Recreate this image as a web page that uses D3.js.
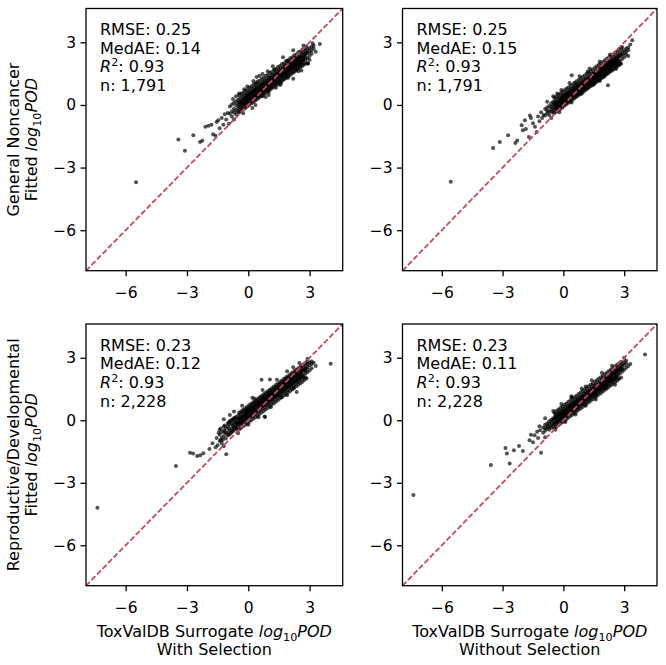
<!DOCTYPE html>
<html><head><meta charset="utf-8">
<script src="https://cdn.jsdelivr.net/npm/d3@7/dist/d3.min.js"></script>
<style>
body{margin:0;background:#fff}
svg{display:block}
text{font-family:"DejaVu Sans",sans-serif;fill:#000}
</style>
</head><body>
<svg id="chart" width="666" height="665"></svg>
<script>
// ---------- data ----------
const rowLabels = ["General Noncancer", "Reproductive/Developmental"];
const colLabels = ["With Selection", "Without Selection"];
const rmse  = ["0.25", "0.25", "0.23", "0.23"];
const medae = ["0.14", "0.15", "0.12", "0.11"];
const r2    = ["0.93", "0.93", "0.93", "0.93"];
const nObs  = ["1,791", "1,791", "2,228", "2,228"];
const tickValues = [-6, -3, 0, 3];
const axisDomain = [-7.94, 4.62];

// dense band, read column by column: [x, y1, y2, ...]
const gncWithCols = [
[-0.9,-0.08,-0.42],[-0.8,-0.30,0.02,-0.55],[-0.7,-0.18,0.10,-0.36],[-0.6,-0.02,-0.25,0.18,-0.45],
[-0.5,0.06,-0.16,0.25,-0.32],[-0.4,0.12,-0.10,0.32,-0.24,0.02],[-0.3,0.20,-0.02,0.40,-0.18,0.10],
[-0.2,0.28,0.04,0.47,-0.10,0.18],[-0.1,0.34,0.12,0.55,-0.02,0.24,0.45],[0.0,0.40,0.18,0.62,0.05,0.30,0.50],
[0.1,0.48,0.26,0.70,0.12,0.36,0.58],[0.2,0.55,0.30,0.76,0.20,0.44,0.64],[0.3,0.62,0.40,0.85,0.26,0.50,0.72],
[0.4,0.70,0.46,0.90,0.34,0.58,0.80,1.05],[0.5,0.76,0.52,0.98,0.40,0.65,0.86],[0.6,0.84,0.60,1.04,0.48,0.72,0.94],
[0.7,0.90,0.66,1.12,0.55,0.78,1.00,0.42],[0.8,0.98,0.74,1.18,0.62,0.86,1.08],[0.9,1.05,0.80,1.26,0.70,0.92,1.15],
[1.0,1.12,0.88,1.32,0.76,1.00,1.22,0.62],[1.1,1.18,0.95,1.40,0.84,1.06,1.30],[1.2,1.26,1.02,1.46,0.90,1.14,1.36],
[1.3,1.34,1.10,1.54,0.98,1.22,1.44,1.68],[1.4,1.40,1.16,1.62,1.04,1.28,1.50],[1.5,1.48,1.24,1.68,1.12,1.36,1.58],
[1.6,1.55,1.30,1.76,1.18,1.42,1.66,1.02],[1.7,1.62,1.38,1.82,1.26,1.50,1.72],[1.8,1.70,1.45,1.90,1.34,1.58,1.80],
[1.9,1.76,1.52,1.96,1.40,1.64,1.86,2.10],[2.0,1.84,1.60,2.04,1.48,1.72,1.94],[2.1,1.90,1.66,2.12,1.55,1.78,2.00],
[2.2,1.98,1.74,2.18,1.62,1.86,2.08,1.26],[2.3,2.05,1.80,2.26,1.70,1.92,2.16],[2.4,2.12,1.88,2.32,1.76,2.00,2.22],
[2.5,2.18,1.95,2.40,1.84,2.06,2.30],[2.6,2.26,2.02,2.46,1.92,2.14],[2.7,2.32,2.10,2.52,2.00,2.22],
[2.8,2.40,2.18,2.60,2.28],[2.9,2.48,2.24,2.66,1.98],[3.0,2.55,2.35,2.72],[3.1,2.62,2.45,2.80],
[3.2,2.70,2.85],[3.5,2.92],
[-0.45,0.46,-0.36,0.14,-0.09],[-0.35,0.55,-0.30,0.20,-0.02],[-0.25,0.58,-0.22,0.28,0.05],[-0.15,0.68,-0.16,0.35,0.12],
[-0.05,0.72,-0.08,0.42,0.19],[0.05,0.84,0.00,0.50,0.27],[0.15,0.88,0.07,0.57,0.34],[0.25,0.98,0.14,0.64,0.41],
[0.35,1.02,0.21,0.71,0.48],[0.45,1.12,0.28,0.78,0.55],[0.55,1.16,0.36,0.86,0.63],[0.65,1.26,0.43,0.93,0.70],
[0.75,1.30,0.50,1.00,0.77],[0.85,1.40,0.57,1.07,0.84],[0.95,1.44,0.64,1.14,0.91],[1.05,1.54,0.72,1.22,0.99],
[1.15,1.58,0.79,1.29,1.06],[1.25,1.68,0.86,1.36,1.13],[1.35,1.72,0.93,1.43,1.20],[1.45,1.82,1.00,1.50,1.27],
[1.55,1.86,1.08,1.58,1.35],[1.65,1.96,1.15,1.65,1.42],[1.75,2.00,1.22,1.72,1.49],[1.85,2.10,1.29,1.79,1.56],
[1.95,2.14,1.36,1.86,1.63],[2.05,2.24,1.44,1.94,1.71],[2.15,2.28,1.51,2.01,1.78],[2.25,2.38,1.58,2.08,1.85],
[2.35,2.42,1.65,2.15,1.92],[2.45,2.52,1.72,2.22,1.99],[2.55,2.56,1.80,2.30,2.07],[2.65,2.66,1.87,2.37,2.14],
[2.75,2.70,1.94,2.44],[2.85,2.80,2.01,2.51]
];
const gncWithPts = [
[-5.49,-3.70],[-3.42,-1.66],[-3.10,-2.20],[-2.69,-1.45],[-2.36,-1.77],[-2.25,-1.72],[-2.10,-1.05],
[-1.95,-1.00],[-1.80,-0.95],[-1.72,-1.40],[-1.60,-1.48],[-1.55,-0.82],[-1.47,-0.73],[-1.40,-1.12],
[-1.30,-0.62],[-1.22,-0.95],[-1.15,-0.45],[-1.08,-0.70],[-1.00,-0.38],[-0.95,-0.90],[0.41,1.34],
[0.55,1.40],[-0.2,0.75],[2.93,1.98],[1.55,0.95],[0.95,1.62],[2.6,1.65],[-0.6,0.42],[0.2,-0.15],
[-0.75,0.28],[-0.45,0.55],[-0.05,0.88],[0.25,1.15],[0.7,1.48],[1.2,1.85],[1.7,2.28],[2.2,2.62],
[2.7,2.85],[3.3,2.55],[3.0,2.15],[2.45,1.62],[1.95,1.30],[1.35,0.82],[0.85,0.38],[0.35,0.00],
[-0.25,-0.40],[-0.7,-0.70],[3.15,2.95],[1.0,0.48]
];

const gncWithoutCols = [
[-0.9,-0.20,-0.50],[-0.8,-0.40,-0.12,-0.28],[-0.7,-0.30,-0.05,-0.48],[-0.6,-0.10,-0.32,0.08,-0.20],
[-0.5,-0.02,-0.24,0.15,-0.36],[-0.4,0.05,-0.18,0.22,-0.10,0.12],[-0.3,0.12,-0.10,0.30,-0.22,0.02],
[-0.2,0.20,-0.02,0.36,-0.14,0.10],[-0.1,0.26,0.04,0.44,-0.06,0.16,0.34],[0.0,0.32,0.12,0.50,0.00,0.22,0.42],
[0.1,0.40,0.18,0.58,0.08,0.30,0.48],[0.2,0.46,0.26,0.64,0.14,0.36,0.56],[0.3,0.54,0.32,0.72,0.22,0.44,0.62],
[0.4,0.60,0.40,0.78,0.28,0.50,0.70],[0.5,0.68,0.46,0.86,0.36,0.58,0.76],[0.6,0.74,0.54,0.92,0.42,0.64,0.84,1.02],
[0.7,0.82,0.60,1.00,0.50,0.72,0.90],[0.8,0.90,0.68,1.06,0.56,0.78,0.98],[0.9,0.96,0.74,1.14,0.64,0.86,1.04],
[1.0,1.04,0.82,1.20,0.70,0.92,1.12],[1.1,1.10,0.88,1.28,0.78,1.00,1.18],[1.2,1.18,0.96,1.34,0.84,1.06,1.26],
[1.3,1.26,1.04,1.42,0.92,1.14,1.34],[1.4,1.32,1.10,1.50,0.98,1.22,1.40],[1.5,1.40,1.18,1.56,1.06,1.28,1.48],
[1.6,1.46,1.24,1.64,1.12,1.36,1.56],[1.7,1.54,1.32,1.70,1.20,1.42,1.62],[1.8,1.62,1.40,1.78,1.28,1.50,1.70],
[1.9,1.68,1.46,1.86,1.34,1.58,1.76],[2.0,1.76,1.54,1.92,1.42,1.64,1.84],[2.1,1.82,1.60,2.00,1.48,1.72,1.90],
[2.2,1.90,1.68,2.06,1.56,1.78,1.98,0.94],[2.3,1.98,1.76,2.14,1.64,1.86,2.06],[2.4,2.04,1.82,2.20,1.70,1.92,2.12],
[2.5,2.12,1.90,2.28,1.78,2.00],[2.6,2.18,1.96,2.34,1.86,2.08],[2.7,2.26,2.04,2.42,1.94,2.14],
[2.8,2.34,2.12,2.48,1.98],[2.9,2.40,2.20,2.56],[3.0,2.48,2.28,2.62],[3.1,2.55,2.40,2.70],
[3.2,2.62,2.75],[3.4,3.10],
[-0.45,0.34,-0.40,0.04,-0.16],[-0.35,0.41,-0.33,0.11,-0.09],[-0.25,0.48,-0.26,0.18,-0.02],[-0.15,0.55,-0.19,0.25,0.05],
[-0.05,0.62,-0.12,0.32,0.12],[0.05,0.70,-0.04,0.40,0.20],[0.15,0.77,0.03,0.47,0.27],[0.25,0.84,0.10,0.54,0.34],
[0.35,0.91,0.17,0.61,0.41],[0.45,0.98,0.24,0.68,0.48],[0.55,1.06,0.32,0.76,0.56],[0.65,1.13,0.39,0.83,0.63],
[0.75,1.20,0.46,0.90,0.70],[0.85,1.27,0.53,0.97,0.77],[0.95,1.34,0.60,1.04,0.84],[1.05,1.42,0.68,1.12,0.92],
[1.15,1.49,0.75,1.19,0.99],[1.25,1.56,0.82,1.26,1.06],[1.35,1.63,0.89,1.33,1.13],[1.45,1.70,0.96,1.40,1.20],
[1.55,1.78,1.04,1.48,1.28],[1.65,1.85,1.11,1.55,1.35],[1.75,1.92,1.18,1.62,1.42],[1.85,1.99,1.25,1.69,1.49],
[1.95,2.06,1.32,1.76,1.56],[2.05,2.14,1.40,1.84,1.64],[2.15,2.21,1.47,1.91,1.71],[2.25,2.28,1.54,1.98,1.78],
[2.35,2.35,1.61,2.05,1.85],[2.45,2.42,1.68,2.12,1.92],[2.55,2.50,1.76,2.20,2.00],[2.65,2.57,1.83,2.27,2.07],
[2.75,2.64,1.90,2.34],[2.85,2.71,1.97,2.41]
];
const gncWithoutPts = [
[-5.56,-3.68],[-3.47,-2.06],[-3.14,-1.77],[-2.73,-1.45],[-2.37,-1.82],[-2.28,-1.70],[-2.06,-0.97],
[-2.00,-1.21],[-1.90,-0.73],[-1.85,-1.15],[-1.70,-1.53],[-1.65,-0.50],[-1.60,-0.62],[-1.50,-0.88],
[-1.40,-1.05],[-1.32,-1.29],[-1.25,-0.55],[-1.18,-0.78],[-1.10,-0.35],[-1.05,-0.62],[-0.98,-0.48],
[0.41,1.42],[2.79,1.98],[1.2,1.60],[-0.3,0.55],[1.8,1.15],
[-0.8,0.15],[-0.5,0.42],[-0.1,0.72],[0.3,1.05],[0.8,1.38],[1.3,1.75],[1.8,2.08],[2.3,2.42],
[2.9,2.78],[3.2,2.35],[2.6,1.72],[2.0,1.35],[1.5,0.98],[0.9,0.55],[0.4,0.12],[-0.2,-0.35],
[-0.6,-0.62],[3.3,2.90]
];

const rdWithCols = [
[-1.4,-0.70,-1.00,-0.45],[-1.3,-0.58,-0.85,-1.10],[-1.2,-0.50,-0.75,-0.30],[-1.1,-0.40,-0.88,-0.62],
[-1.0,-0.30,-0.58,-0.15,-0.72],[-0.9,-0.22,-0.48,-0.05,-0.65],[-0.8,-0.15,-0.40,0.02,-0.55],
[-0.7,-0.08,-0.32,0.10,-0.45,-0.20],[-0.6,0.00,-0.25,0.16,-0.38,-0.10],[-0.5,0.08,-0.18,0.22,-0.30,-0.04],
[-0.4,0.14,-0.10,0.30,-0.22,0.04],[-0.3,0.22,-0.02,0.38,-0.15,0.10],[-0.2,0.30,0.04,0.44,-0.08,0.18],
[-0.1,0.36,0.12,0.52,0.00,0.26,0.44],[0.0,0.44,0.18,0.60,0.06,0.32,0.50],[0.1,0.50,0.26,0.66,0.14,0.40,0.58],
[0.2,0.58,0.32,0.74,0.20,0.46,0.64],[0.3,0.66,0.40,0.82,0.28,0.54,0.72],[0.4,0.72,0.48,0.90,0.34,0.60,0.80],
[0.5,0.80,0.54,0.96,0.42,0.68,0.86],[0.6,0.88,0.62,1.04,0.50,0.76,0.94],[0.7,0.94,0.70,1.12,0.56,0.82,1.02],
[0.8,1.02,0.76,1.18,0.64,0.90,1.10,0.18],[0.9,1.10,0.84,1.26,0.72,0.98,1.16],[1.0,1.16,0.92,1.34,0.78,1.04,1.24],
[1.1,1.24,0.98,1.40,0.86,1.12,1.32],[1.2,1.32,1.06,1.48,0.94,1.20,1.38],[1.3,1.38,1.14,1.56,1.00,1.26,1.46],
[1.4,1.46,1.20,1.62,1.08,1.34,1.54],[1.5,1.54,1.28,1.70,1.16,1.42,1.60],[1.6,1.60,1.36,1.78,1.22,1.48,1.68],
[1.7,1.68,1.42,1.84,1.30,1.56,1.76],[1.8,1.76,1.50,1.92,1.38,1.64,1.84],[1.9,1.82,1.58,2.00,1.44,1.70,1.90],
[2.0,1.90,1.64,2.06,1.52,1.78,1.98],[2.1,1.98,1.72,2.14,1.60,1.86,2.06],[2.2,2.04,1.80,2.22,1.66,1.92,2.12],
[2.3,2.12,1.86,2.28,1.74,2.00,2.20],[2.4,2.20,1.94,2.36,1.82,2.08],[2.5,2.26,2.02,2.44,1.88,2.14],
[2.6,2.34,2.08,2.50,1.96,2.22],[2.7,2.42,2.16,2.58,2.04],[2.8,2.48,2.24,2.66,2.36],
[2.9,2.56,2.32,2.72],[3.0,2.64,2.40,2.78],[3.1,2.70,2.50,2.82],[3.2,2.76],
[-1.35,-0.40,-0.95],[-1.15,-0.55,-0.25],[-0.95,-0.10,-0.70,-0.40],[-0.85,-0.60,-0.02],[-0.75,-0.28,0.05,-0.52],
[-0.65,-0.35,0.12],[-0.55,-0.15,-0.45],
[-0.45,0.36,-0.44,0.06,-0.16],[-0.35,0.43,-0.37,0.13,-0.09],[-0.25,0.51,-0.29,0.21,-0.01],[-0.15,0.58,-0.22,0.28,0.06],
[-0.05,0.65,-0.15,0.35,0.13],[0.05,0.73,-0.07,0.43,0.21],[0.15,0.80,0.00,0.50,0.28],[0.25,0.88,0.08,0.58,0.36],
[0.35,0.95,0.15,0.65,0.43],[0.45,1.02,0.22,0.72,0.50],[0.55,1.10,0.30,0.80,0.58],[0.65,1.17,0.37,0.87,0.65],
[0.75,1.25,0.45,0.95,0.73],[0.85,1.32,0.52,1.02,0.80],[0.95,1.39,0.59,1.09,0.87],[1.05,1.47,0.67,1.17,0.95],
[1.15,1.54,0.74,1.24,1.02],[1.25,1.62,0.82,1.32,1.10],[1.35,1.69,0.89,1.39,1.17],[1.45,1.76,0.96,1.46,1.24],
[1.55,1.84,1.04,1.54,1.32],[1.65,1.91,1.11,1.61,1.39],[1.75,1.99,1.19,1.69,1.47],[1.85,2.06,1.26,1.76,1.54],
[1.95,2.13,1.33,1.83,1.61],[2.05,2.21,1.41,1.91,1.69],[2.15,2.28,1.48,1.98,1.76],[2.25,2.36,1.56,2.06,1.84],
[2.35,2.43,1.63,2.13,1.91],[2.45,2.50,1.70,2.20,1.98],[2.55,2.58,1.78,2.28,2.06],[2.65,2.65,1.85,2.35,2.13],
[2.75,2.73,1.93,2.43],[2.85,2.80,2.00,2.50]
];
const rdWithPts = [
[-7.38,-4.20],[-3.54,-2.20],[-2.85,-1.56],[-2.70,-1.60],[-2.50,-1.72],[-2.35,-1.68],[-2.20,-1.58],
[-1.90,-1.38],[-1.75,-1.10],[-1.60,-1.30],[-1.50,-1.20],[-1.55,-0.85],[-1.45,-0.60],[-1.08,-1.63],
[-1.25,-0.95],[0.65,1.95],[1.06,1.96],[2.37,1.36],[4.03,2.71],[0.82,0.16],[0.3,1.05],[1.9,1.2],
[-0.9,0.25],[2.2,2.55],
[-1.2,0.05],[-0.7,0.42],[-0.3,0.70],[0.2,1.08],[0.7,1.45],[1.4,1.95],[1.9,2.35],[2.5,2.75],
[3.3,2.60],[2.8,2.05],[2.2,1.52],[1.6,1.12],[1.1,0.62],[0.5,0.15],[0.0,-0.22],[-0.5,-0.62],
[-1.2,-1.25],[2.9,2.95]
];

const rdWithoutCols = [
[-1.0,-0.35,-0.60],[-0.9,-0.22,-0.50,-0.38],[-0.8,-0.15,-0.40,-0.28],[-0.7,-0.05,-0.32,-0.18,-0.45],
[-0.6,0.02,-0.25,-0.10,-0.36],[-0.5,0.10,-0.18,0.00,-0.28],[-0.4,0.18,-0.10,0.06,-0.20,0.28],
[-0.3,0.24,-0.02,0.14,-0.12,0.34],[-0.2,0.32,0.04,0.20,-0.06,0.40],[-0.1,0.38,0.12,0.28,0.02,0.48,0.20],
[0.0,0.46,0.18,0.34,0.08,0.54,0.26],[0.1,0.52,0.26,0.42,0.16,0.62,0.32],[0.2,0.60,0.32,0.48,0.22,0.68,0.40],
[0.3,0.68,0.40,0.56,0.30,0.76,0.46],[0.4,0.74,0.48,0.64,0.36,0.84,0.54],[0.5,0.82,0.56,0.70,0.44,0.90,0.62],
[0.6,0.90,0.62,0.78,0.50,0.98,0.70],[0.7,0.96,0.70,0.86,0.58,1.06,0.76],[0.8,1.04,0.78,0.92,0.66,1.12,0.84],
[0.9,1.12,0.84,1.00,0.74,1.20,0.92],[1.0,1.18,0.92,1.08,0.80,1.28,0.98],[1.1,1.26,1.00,1.14,0.88,1.34,1.06],
[1.2,1.34,1.06,1.22,0.96,1.42,1.14],[1.3,1.40,1.14,1.30,1.02,1.50,1.20],[1.4,1.48,1.22,1.36,1.10,1.58,1.28],
[1.5,1.56,1.30,1.44,1.18,1.64,1.36],[1.6,1.62,1.36,1.52,1.24,1.72,1.42],[1.7,1.70,1.44,1.58,1.32,1.80,1.50],
[1.8,1.78,1.52,1.66,1.40,1.86,1.58],[1.9,1.84,1.58,1.74,1.46,1.94,1.64],[2.0,1.92,1.66,1.80,1.54,2.02,1.72],
[2.1,2.00,1.74,1.88,1.62,2.08,1.80],[2.2,2.06,1.80,1.96,1.68,2.16,1.86],[2.3,2.14,1.88,2.02,1.76,2.24,1.94],
[2.4,2.22,1.96,2.10,1.84,2.30],[2.5,2.28,2.04,2.18,1.92,2.38],[2.6,2.36,2.10,2.24,1.98,2.46],
[2.7,2.44,2.18,2.32,2.54],[2.8,2.50,2.26,2.40,2.62],[2.9,2.58,2.34,2.70,2.46],[3.0,2.66,2.42,2.80],
[3.1,2.72,2.52,2.86],[3.2,2.60],
[-0.45,0.37,-0.39,0.07,-0.15],[-0.35,0.44,-0.32,0.14,-0.08],[-0.25,0.52,-0.24,0.22,0.00],[-0.15,0.59,-0.17,0.29,0.07],
[-0.05,0.66,-0.10,0.36,0.14],[0.05,0.74,-0.02,0.44,0.22],[0.15,0.81,0.05,0.51,0.29],[0.25,0.89,0.13,0.59,0.37],
[0.35,0.96,0.20,0.66,0.44],[0.45,1.03,0.27,0.73,0.51],[0.55,1.11,0.35,0.81,0.59],[0.65,1.18,0.42,0.88,0.66],
[0.75,1.26,0.50,0.96,0.74],[0.85,1.33,0.57,1.03,0.81],[0.95,1.40,0.64,1.10,0.88],[1.05,1.48,0.72,1.18,0.96],
[1.15,1.55,0.79,1.25,1.03],[1.25,1.63,0.87,1.33,1.11],[1.35,1.70,0.94,1.40,1.18],[1.45,1.77,1.01,1.47,1.25],
[1.55,1.85,1.09,1.55,1.33],[1.65,1.92,1.16,1.62,1.40],[1.75,2.00,1.24,1.70,1.48],[1.85,2.07,1.31,1.77,1.55],
[1.95,2.14,1.38,1.84,1.62],[2.05,2.22,1.46,1.92,1.70],[2.15,2.29,1.53,1.99,1.77],[2.25,2.37,1.61,2.07,1.85],
[2.35,2.44,1.68,2.14,1.92],[2.45,2.51,1.75,2.21,1.99],[2.55,2.59,1.83,2.29,2.07],[2.65,2.66,1.90,2.36,2.14],
[2.75,2.74,1.98,2.44],[2.85,2.81,2.05,2.51]
];
const rdWithoutPts = [
[-7.40,-3.59],[4.03,3.16],[-3.58,-2.15],[-2.86,-1.33],[-2.79,-1.60],[-2.65,-2.07],[-2.44,-1.44],
[-2.19,-1.24],[-2.00,-1.48],[-1.67,-0.96],[-1.42,-0.72],[-1.18,-0.29],[-1.10,-1.56],[-1.60,-0.70],
[-1.30,-0.55],[-1.25,-0.85],[-1.50,-1.05],[-1.15,-0.48],[1.6,1.0],[2.55,1.70],[0.4,1.1],[1.1,1.62],
[-0.9,0.10],[-0.5,0.45],[-0.1,0.78],[0.4,1.15],[0.9,1.52],[1.4,1.92],[1.9,2.28],[2.4,2.62],
[3.3,2.70],[2.7,2.00],[2.1,1.55],[1.6,1.18],[1.1,0.70],[0.6,0.28],[0.1,-0.08],[-0.4,-0.45],
[-0.9,-0.82],[3.0,3.0]
];

const panelCols = [gncWithCols, gncWithoutCols, rdWithCols, rdWithoutCols];
const panelPts  = [gncWithPts, gncWithoutPts, rdWithPts, rdWithoutPts];

// ---------- layout ----------
const X0 = [86, 402.5], X1 = [342.7, 657];
const Y0 = [8.5, 324],  Y1 = [270.7, 585.7];
const FS = 16, TFS = 15.5;
const RED = "#c8485f";

const svg = d3.select("#chart");
const fmt = d => d < 0 ? "\u2212" + Math.abs(d) : String(d);

function addLogPOD(sel) {
  sel.append("tspan").attr("font-style", "italic").text("log");
  sel.append("tspan").attr("font-size", FS * 0.7).attr("dy", 4).text("10");
  sel.append("tspan").attr("font-style", "italic").attr("dy", -4).text("POD");
}

for (let r = 0; r < 2; r++) {
  for (let c = 0; c < 2; c++) {
    const i = r * 2 + c;
    const x = d3.scaleLinear().domain(axisDomain).range([X0[c], X1[c]]);
    const y = d3.scaleLinear().domain(axisDomain).range([Y1[r], Y0[r]]);
    const g = svg.append("g");
    const clipId = "clip" + i;
    svg.append("clipPath").attr("id", clipId).append("rect")
      .attr("x", X0[c]).attr("y", Y0[r]).attr("width", X1[c] - X0[c]).attr("height", Y1[r] - Y0[r]);

    const pts = panelCols[i].flatMap(([px, ...ys]) => ys.map(py => [px, py])).concat(panelPts[i]);
    const plot = g.append("g").attr("clip-path", `url(#${clipId})`);
    plot.selectAll("circle").data(pts).enter().append("circle")
      .attr("cx", d => x(d[0])).attr("cy", d => y(d[1])).attr("r", 2.0)
      .attr("fill", "#000").attr("fill-opacity", 0.68);

    plot.append("path")
      .datum([[axisDomain[0], axisDomain[0]], [axisDomain[1], axisDomain[1]]])
      .attr("d", d3.line().x(d => x(d[0])).y(d => y(d[1])))
      .attr("stroke", RED).attr("stroke-width", 1.8).attr("stroke-dasharray", "5.5,2.4").attr("fill", "none");

    // axes
    const ax = g.append("g").attr("transform", `translate(0,${Y1[r]})`)
      .call(d3.axisBottom(x).tickValues(tickValues).tickSize(5.5).tickPadding(11).tickFormat(fmt));
    const ay = g.append("g").attr("transform", `translate(${X0[c]},0)`)
      .call(d3.axisLeft(y).tickValues(tickValues).tickSize(5.5).tickPadding(4.5).tickFormat(fmt));
    [ax, ay].forEach(a => {
      a.select(".domain").remove();
      a.selectAll("line").attr("stroke", "#000").attr("stroke-width", 1.3);
      a.selectAll("text").attr("font-size", TFS).attr("font-family", '"DejaVu Sans",sans-serif').attr("fill", "#000");
    });

    g.append("rect").attr("x", X0[c]).attr("y", Y0[r])
      .attr("width", X1[c] - X0[c]).attr("height", Y1[r] - Y0[r])
      .attr("fill", "none").attr("stroke", "#000").attr("stroke-width", 1.3);

    // stats annotation
    const tx = X0[c] + 14, ty = Y0[r] + 26.5, lh = 18.7;
    g.append("text").attr("x", tx).attr("y", ty).attr("font-size", FS).text("RMSE: " + rmse[i]);
    g.append("text").attr("x", tx).attr("y", ty + lh).attr("font-size", FS).text("MedAE: " + medae[i]);
    const t3 = g.append("text").attr("x", tx).attr("y", ty + 2 * lh).attr("font-size", FS);
    t3.append("tspan").attr("font-style", "italic").text("R");
    t3.append("tspan").attr("font-size", FS * 0.7).attr("dy", -6).text("2");
    t3.append("tspan").attr("dy", 6).text(": " + r2[i]);
    g.append("text").attr("x", tx).attr("y", ty + 3 * lh).attr("font-size", FS).text("n: " + nObs[i]);

    // y labels (left column)
    if (c === 0) {
      const cy = (Y0[r] + Y1[r]) / 2;
      svg.append("text").attr("transform", `translate(19,${cy}) rotate(-90)`)
        .attr("text-anchor", "middle").attr("font-size", FS).text(rowLabels[r]);
      const t = svg.append("text").attr("transform", `translate(37,${cy}) rotate(-90)`)
        .attr("text-anchor", "middle").attr("font-size", FS);
      t.append("tspan").text("Fitted ");
      addLogPOD(t);
    }
    // x labels (bottom row)
    if (r === 1) {
      const cx = (X0[c] + X1[c]) / 2;
      const t = svg.append("text").attr("x", cx).attr("y", 636.7)
        .attr("text-anchor", "middle").attr("font-size", FS);
      t.append("tspan").text("ToxValDB Surrogate ");
      addLogPOD(t);
      svg.append("text").attr("x", cx).attr("y", 655)
        .attr("text-anchor", "middle").attr("font-size", FS).text(colLabels[c]);
    }
  }
}
</script>
</body></html>
